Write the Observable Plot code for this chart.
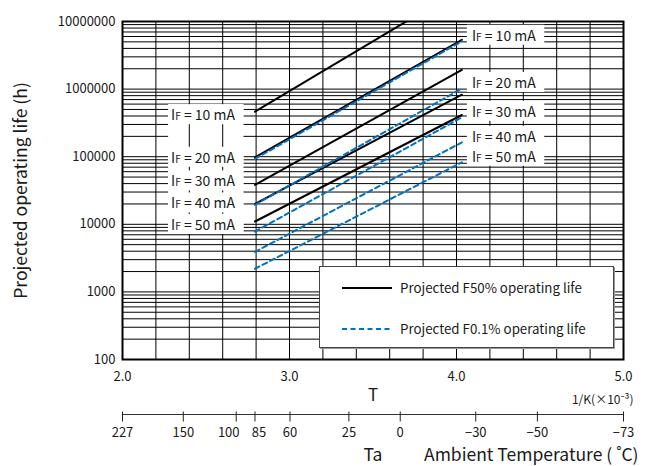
<!DOCTYPE html>
<html><head><meta charset="utf-8">
<script src="https://cdn.jsdelivr.net/npm/d3@7"></script>
<script src="https://cdn.jsdelivr.net/npm/@observablehq/plot@0.6"></script>
<style>
body{margin:0;background:#fff;}
#wrap{position:relative;width:646px;height:466px;font-family:"Noto Sans CJK JP","Noto Sans",sans-serif;color:#1a1a1a;}
#legend{position:absolute;left:319px;top:266px;width:295px;height:82px;box-sizing:border-box;border:1px solid #444;background:#fff;box-shadow:1px 1px 0 #999;}
</style></head><body><div id="wrap"></div>
<script>
// ---- data ----
const currents = ["10 mA", "20 mA", "30 mA", "40 mA", "50 mA"];
const taEnds = [85, -25];                       // line endpoints (ambient temperature, °C)
const f50Start = [463000, 98000, 38300, 20000, 11000];
const f50End   = [31000000, 5370000, 1920000, 826000, 414000];
const f01Start = [92700, 19400, 7800, 3900, 2200];
const f01End   = [5100000, 1020000, 382000, 163000, 82600];
const seriesNames = ["Projected F50% operating life", "Projected F0.1% operating life"];
const yTicks = [100, 1000, 10000, 100000, 1000000, 10000000];
const tTicks = [2.0, 3.0, 4.0, 5.0];
const taTicks = [227, 150, 100, 85, 60, 25, 0, -30, -50, -73];

// ---- derived ----
const invT = ta => 1000 / (ta + 273);
const rows = [];
currents.forEach((c, i) => {
  rows.push({s: 0, c, x: invT(taEnds[0]), y: f50Start[i]}, {s: 0, c, x: invT(taEnds[1]), y: f50End[i]});
  rows.push({s: 1, c, x: invT(taEnds[0]), y: f01Start[i]}, {s: 1, c, x: invT(taEnds[1]), y: f01End[i]});
});
const yGrid = [];
for (let e = 2; e < 7; e++) for (let m = 1; m < 10; m++) yGrid.push(m * 10 ** e);
yGrid.push(1e7);
const xGrid = d3.range(16).map(i => 2 + i * 0.2);
const taPos = taTicks.map(invT);
const taLabel = new Map(taPos.map((p, i) => [p, taTicks[i]]));
const fmtTa = p => { const t = taLabel.get(p); return t < 0 ? "\u2212" + (-t) : String(t); };

const chart = Plot.plot({
  width: 646, height: 466,
  marginTop: 21, marginBottom: 107, marginLeft: 122, marginRight: 23,
  style: {fontFamily: '"Noto Sans CJK JP","Noto Sans",sans-serif', fontSize: "13px", color: "#1a1a1a", background: "white"},
  x: {domain: [2, 5]},
  y: {type: "log", domain: [100, 1e7]},
  marks: [
    Plot.gridY(yGrid, {stroke: "#000", strokeOpacity: 1, strokeWidth: 1}),
    Plot.gridX(xGrid, {stroke: "#000", strokeOpacity: 1, strokeWidth: 1}),
    Plot.line(rows.filter(d => d.s === 0), {x: "x", y: "y", z: "c", stroke: "#000", strokeWidth: 2, clip: true}),
    Plot.line(rows.filter(d => d.s === 1), {x: "x", y: "y", z: "c", stroke: "#0070c0", strokeWidth: 2, strokeDasharray: "5,3.5", clip: true}),
    Plot.frame({stroke: "#000", strokeWidth: 2}),
    Plot.axisY({ticks: yTicks, tickSize: 0, tickPadding: 7, tickFormat: d => String(d), label: null, fontSize: 13}),
    Plot.axisX({ticks: tTicks, tickSize: 0, tickPadding: 12, tickFormat: d => d.toFixed(1), label: null, fontSize: 13}),
    Plot.frame({anchor: "bottom", dy: 55, stroke: "#333", strokeWidth: 1.2}),
    Plot.axisX(taPos, {anchor: "bottom", dy: 52.5, tickSize: 10, tickPadding: 6, tickFormat: fmtTa, label: null, fontSize: 13, stroke: "#222"}),
    Plot.text(currents, {x: () => invT(taEnds[0]), y: (d, i) => f50Start[i], text: d => "IF = " + d, textAnchor: "end", dx: -20, fontSize: 14}),
    Plot.text(currents, {x: () => invT(taEnds[1]), y: (d, i) => f01End[i], text: d => "IF = " + d, textAnchor: "start", dx: 10, dy: -5, fontSize: 14}),
    Plot.text(["Projected operating life (h)"], {frameAnchor: "left", textAnchor: "middle", rotate: -90, dx: -101, fontSize: 17.5}),
    Plot.text(["T"], {frameAnchor: "bottom", textAnchor: "middle", dy: 41, fontSize: 17}),
    Plot.text(["1/K(\u00d710\u207b\u00b3)"], {frameAnchor: "bottom-right", textAnchor: "end", dx: 10, dy: 44, fontSize: 12}),
    Plot.text(["Ta"], {frameAnchor: "bottom", textAnchor: "middle", dy: 101, fontSize: 17.5}),
    Plot.text(["Ambient Temperature ( \u02daC)"], {frameAnchor: "bottom", textAnchor: "start", dx: 51, dy: 101, fontSize: 17.5})
  ]
});
const wrap = document.getElementById("wrap");
wrap.appendChild(chart);

// ---- post-processing: subscript-style "F", white label boxes, label nudges ----
const NS = "http://www.w3.org/2000/svg";
const svg = chart.tagName.toLowerCase() === "svg" ? chart : chart.querySelector("svg");
const sb = svg.getBoundingClientRect();
const allTexts = [...svg.querySelectorAll("text")];
const labelGroups = [...new Set(allTexts.filter(t => t.textContent.startsWith("IF = ")).map(t => t.parentNode))];
function boxes(group, padL, padR, padV, nudges) {
  const out = [];
  group.querySelectorAll("text").forEach((t, i) => {
    const s = t.textContent;
    if (nudges && nudges[i]) t.setAttribute("transform", (t.getAttribute("transform") || "") + ` translate(0,${nudges[i]})`);
    while (t.firstChild) t.removeChild(t.firstChild);
    const a = document.createElementNS(NS, "tspan"); a.textContent = "I";
    const b = document.createElementNS(NS, "tspan"); b.textContent = "F"; b.setAttribute("font-size", "0.72em");
    const c = document.createElementNS(NS, "tspan"); c.textContent = s.slice(2);
    t.append(a, b, c);
    const r = t.getBoundingClientRect();
    out.push({x: r.left - sb.left - padL, y: r.top - sb.top - padV, w: r.width + padL + padR, h: r.height + 2 * padV});
  });
  return out;
}
function addRects(list, before) {
  const g = document.createElementNS(NS, "g");
  list.forEach(b => {
    const r = document.createElementNS(NS, "rect");
    r.setAttribute("x", b.x); r.setAttribute("y", b.y);
    r.setAttribute("width", b.w); r.setAttribute("height", b.h);
    r.setAttribute("fill", "white");
    g.appendChild(r);
  });
  before.parentNode.insertBefore(g, before);
}
try {
  const [leftG, rightG] = labelGroups;
  const vgrid = svg.querySelector('[aria-label="x-grid"]');
  const lb = boxes(leftG, 3, 8, 0, [4, 1, -3, 0, 4]);
  const rb = boxes(rightG, 5, 8, 0);
  const x0 = d3.min(lb, b => b.x), x1 = d3.max(lb, b => b.x + b.w);
  const y0 = d3.min(lb, b => b.y), y1 = d3.max(lb, b => b.y + b.h);
  if (vgrid) addRects([{x: x0, y: y0, w: x1 - x0, h: y1 - y0}], vgrid);
  addRects(lb, leftG);
  addRects(rb, rightG);
  allTexts.forEach(t => {
    if (t.textContent === "100" && t.getBoundingClientRect().top - sb.top > 400) t.setAttribute("dx", "-7.5");
    if (t.textContent === "85") t.setAttribute("dx", "4");
  });
} catch (e) { console.error(e); }

// ---- legend ----
const leg = document.createElement("div");
leg.id = "legend";
leg.innerHTML = `<svg width="293" height="80" style="font-family:'Noto Sans CJK JP','Noto Sans',sans-serif">
  <line x1="22" x2="72" y1="21" y2="21" stroke="#000" stroke-width="2"/>
  <text x="80" y="21" dy="0.35em" font-size="13.3" fill="#1a1a1a">${seriesNames[0]}</text>
  <line x1="22" x2="72" y1="62" y2="62" stroke="#0070c0" stroke-width="2" stroke-dasharray="5,3.5"/>
  <text x="80" y="62" dy="0.35em" font-size="13.3" fill="#1a1a1a">${seriesNames[1]}</text>
</svg>`;
wrap.appendChild(leg);
</script></body></html>
